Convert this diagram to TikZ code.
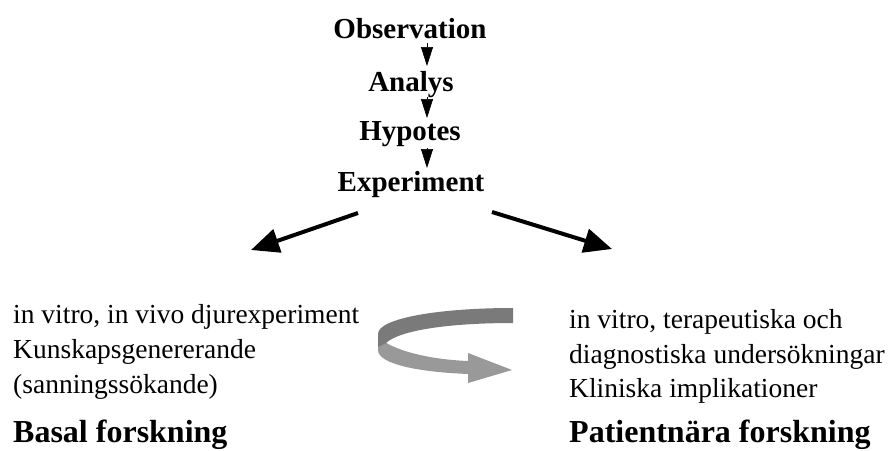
\documentclass[tikz,border=0pt]{standalone}
\usepackage{fontspec}
\setmainfont{Liberation Serif}
\usetikzlibrary{arrows.meta}
\begin{document}
\begin{tikzpicture}[x=1pt,y=-1pt,
  topword/.style={font=\fontsize{29}{29}\selectfont\bfseries, inner sep=0pt, anchor=base},
  bodyline/.style={font=\fontsize{27.5}{35}\selectfont, inner sep=0pt, anchor=base west},
  heading/.style={font=\fontsize{32}{32}\selectfont\bfseries, inner sep=0pt, anchor=base west},
  smallarrow/.style={line width=0.6pt, -{Triangle[length=19pt,width=12pt]}},
  bigarrow/.style={line width=4pt, -{Triangle[length=28pt,width=24pt]}},
  ribbondark/.style={fill=black!52, draw=none},
  ribbonlight/.style={fill=black!40, draw=none}]
\useasboundingbox (0,0) rectangle (891,450);

% top chain
\node[topword] (obs) at (410,38) {Observation};
\node[topword] (ana) at (411,91) {Analys};
\node[topword] (hyp) at (410,140) {Hypotes};
\node[topword] (exp) at (411,191) {Experiment};

\coordinate (a1s) at (427,43);  \coordinate (a1e) at (427,66);
\coordinate (a2s) at (427,97);  \coordinate (a2e) at (427,118);
\coordinate (a3s) at (427,148); \coordinate (a3e) at (427,168);
\draw[smallarrow] (a1s) -- (a1e);
\draw[smallarrow] (a2s) -- (a2e);
\draw[smallarrow] (a3s) -- (a3e);

% big arrows
\coordinate (ls) at (358,213); \coordinate (le) at (251,250);
\coordinate (rs) at (492,212); \coordinate (re) at (612,249);
\draw[bigarrow] (ls) -- (le);
\draw[bigarrow] (rs) -- (re);

% left text
\node[bodyline] (l1) at (13,323) {in vitro, in vivo djurexperiment};
\node[bodyline] (l2) at (13,358) {Kunskapsgenererande};
\node[bodyline] (l3) at (13,393) {(sanningssökande)};
\node[heading] (lh) at (13,442) {Basal forskning};

% right text
\node[bodyline] (r1) at (569,328) {in vitro, terapeutiska och};
\node[bodyline] (r2) at (569,363) {diagnostiska undersökningar};
\node[bodyline] (r3) at (569,397) {Kliniska implikationer};
\node[heading] (rh) at (569,442) {Patientnära forskning};

% curved ribbon arrow
\path[ribbonlight] (378,336) .. controls (386,347) and (420,359) .. (468,361)
  -- (468,353) -- (512,370) -- (468,383) -- (468,374)
  .. controls (418,372) and (378,364) .. (378,350) -- cycle;
\path[ribbondark] (513,308) -- (513,323)
  .. controls (450,323) and (400,330) .. (386,343)
  -- (378,347) -- (378,334)
  .. controls (378,318) and (440,308) .. (513,308) -- cycle;
\end{tikzpicture}
\end{document}
